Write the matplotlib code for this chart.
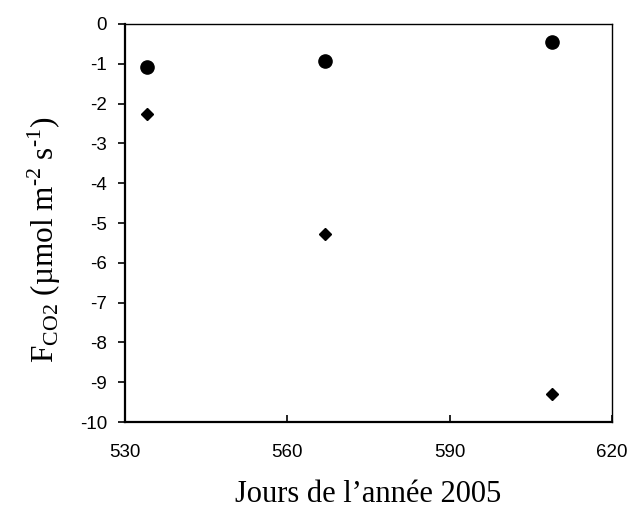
import matplotlib.pyplot as plt

plt.rcParams['mathtext.fontset'] = 'custom'
plt.rcParams['mathtext.rm'] = 'Liberation Serif'

days = [534, 567, 609]
flux_circles = [-1.07, -0.92, -0.44]
flux_diamonds = [-2.26, -5.28, -9.30]
xticks = [530, 560, 590, 620]
yticks = list(range(0, -11, -1))

W, H = 631, 509
fig = plt.figure(figsize=(W / 100, H / 100), dpi=100)
ax = fig.add_axes([125 / W, 1 - 422 / H, 487 / W, 398 / H])

ax.plot(days, flux_circles, 'o', color='black', markersize=9.5, linestyle='none')
ax.plot(days, flux_diamonds, 'D', color='black', markersize=6.5, linestyle='none')

ax.set_xlim(530, 620)
ax.set_ylim(-10, 0)
ax.set_xticks(xticks)
ax.set_yticks(yticks)

tick_font = {'family': 'Liberation Sans', 'size': 13.5}
ax.set_xticklabels([str(t) for t in xticks], fontdict=tick_font)
ax.set_yticklabels([str(t) for t in yticks], fontdict=tick_font)
ax.tick_params(axis='x', direction='in', length=5, width=1.2, pad=16)
ax.tick_params(axis='y', direction='out', length=5, width=1.2, pad=8)

ax.spines['left'].set_linewidth(1.6)
ax.spines['bottom'].set_linewidth(1.6)
ax.spines['top'].set_linewidth(1.0)
ax.spines['right'].set_linewidth(1.0)

# axis titles (Times-like serif, placed as in the original)
fig.text(368 / W, 1 - 502 / H, "Jours de l’année 2005", family='Liberation Serif',
         size=22, ha='center', va='baseline')
fig.text(54 / W, 1 - 240 / H,
         'F$_{\\mathrm{CO2}}$ (µmol m$^{\\mathrm{\u20102}}$ s$^{\\mathrm{\u20101}}$)',
         family='Liberation Serif', size=22.5, rotation=90, rotation_mode='anchor',
         ha='center', va='baseline')

fig.savefig('out.png', dpi=100)
